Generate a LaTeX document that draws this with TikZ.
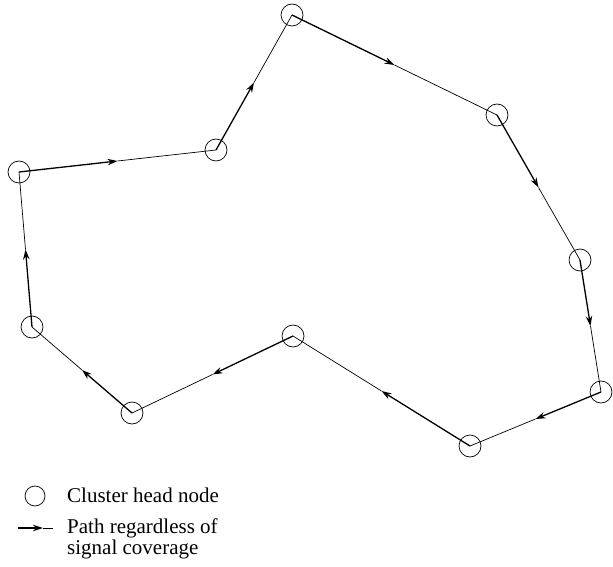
\documentclass[tikz,border=0pt]{standalone}
\usepackage{fontspec}
\setmainfont{Liberation Serif}
\usetikzlibrary{arrows.meta,calc}
\begin{document}
\begin{tikzpicture}[x=1pt,y=-1pt,
  chnode/.style={draw, circle, minimum size=22pt, inner sep=0pt, line width=0.7pt},
  headpart/.style={line width=1.3pt, -{Stealth[length=10pt,width=6.5pt]}},
  tailpart/.style={line width=0.7pt},
  legtext/.style={anchor=base west, inner sep=0pt, align=left,
    font=\fontsize{21}{21}\selectfont}]
\useasboundingbox (0,0) rectangle (613,567);
\node[chnode] (A) at (292,15) {};
\node[chnode] (B) at (497,115) {};
\node[chnode] (C) at (580,260) {};
\node[chnode] (D) at (601,392) {};
\node[chnode] (E) at (470,446) {};
\node[chnode] (F) at (293,336) {};
\node[chnode] (G) at (132,413) {};
\node[chnode] (H) at (32,327) {};
\node[chnode] (I) at (19,172) {};
\node[chnode] (J) at (216,150) {};
\foreach \s/\t in {A/B,B/C,C/D,D/E,E/F,F/G,G/H,H/I,I/J,J/A}{
  \draw[headpart] (\s.center) -- ($(\s.center)!0.5!(\t.center)$);
  \draw[tailpart] ($(\s.center)!0.5!(\t.center)$) -- (\t.center);
}
% legend
\node[chnode, minimum size=20pt] (lc) at (35,496) {};
\node[legtext] (lt1) at (67,502) {Cluster head node};
\coordinate (la) at (18,528);
\coordinate (lm) at (43,528);
\coordinate (lb) at (53,528);
\draw[headpart] (la) -- (lm);
\draw[tailpart] (lm) -- (lb);
\node[legtext] (lt2) at (67,554) {Path regardless of\\signal coverage};
\end{tikzpicture}
\end{document}
